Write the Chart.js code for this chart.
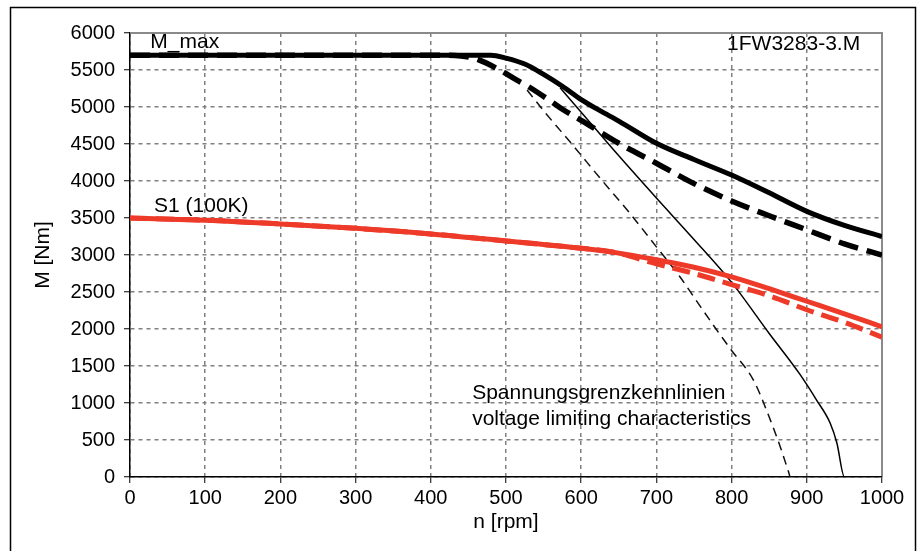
<!DOCTYPE html>
<html>
<head>
<meta charset="utf-8">
<script src="https://cdn.jsdelivr.net/npm/chart.js@4.4.1/dist/chart.umd.min.js"></script>
<style>
  html, body { margin: 0; padding: 0; background: #fff; }
  #wrap { position: relative; width: 922px; height: 551px; }
  canvas { display: block; }
</style>
</head>
<body>
<div id="wrap"><canvas id="c" width="922" height="551"></canvas></div>
<script>
// ---- data ----
const xTicks = [0, 100, 200, 300, 400, 500, 600, 700, 800, 900, 1000];
const yTicks = [0, 500, 1000, 1500, 2000, 2500, 3000, 3500, 4000, 4500, 5000, 5500, 6000];

// M_max, solid thick black
const mmaxSolidN = [0, 100, 200, 300, 400, 480, 500, 525, 550, 575, 600, 625, 650, 700, 750, 800, 850, 900, 950, 1000];
const mmaxSolidM = [5700, 5700, 5700, 5700, 5700, 5700, 5660, 5580, 5440, 5280, 5100, 4950, 4810, 4510, 4290, 4080, 3840, 3590, 3400, 3250];

// M_max, dashed thick black
const mmaxDashN = [0, 100, 200, 300, 400, 440, 460, 490, 510, 530, 560, 575, 600, 650, 700, 750, 800, 850, 900, 950, 1000];
const mmaxDashM = [5700, 5700, 5700, 5700, 5700, 5690, 5650, 5510, 5390, 5275, 5075, 4970, 4820, 4510, 4240, 3965, 3730, 3530, 3340, 3150, 3000];

// S1 (100K), solid red
const s1SolidN = [0, 100, 200, 300, 400, 500, 600, 650, 700, 750, 800, 850, 900, 950, 1000];
const s1SolidM = [3500, 3470, 3420, 3360, 3285, 3190, 3090, 3025, 2935, 2835, 2705, 2545, 2375, 2205, 2030];

// S1 (100K), dashed red
const s1DashN = [0, 100, 200, 300, 400, 500, 600, 640, 700, 750, 800, 850, 900, 950, 1000];
const s1DashM = [3500, 3470, 3420, 3360, 3285, 3190, 3090, 3045, 2880, 2750, 2600, 2450, 2260, 2090, 1890];

// voltage limiting characteristic, thin solid
const vlimSolidN = [572, 600, 650, 700, 750, 800, 850, 890, 913, 931, 940, 950, 1000];
const vlimSolidM = [5260, 4930, 4340, 3770, 3210, 2630, 1940, 1400, 1040, 730, 460, 0, 0];

// voltage limiting characteristic, thin dashed
const vlimDashN = [528, 550, 590, 625, 665, 700, 731, 750, 780, 800, 829, 850, 865, 876, 878, 1000];
const vlimDashM = [5230, 4950, 4470, 4040, 3560, 3110, 2710, 2430, 1990, 1710, 1310, 810, 400, 60, 0, 0];

// text labels
const labels = [
  { text: 'M_max', n: 27, m: 5795 },
  { text: '1FW3283-3.M', n: 794, m: 5770 },
  { text: 'S1 (100K)', n: 32, m: 3580 },
  { text: 'Spannungsgrenzkennlinien', n: 455, m: 1054 },
  { text: 'voltage limiting characteristics', n: 455, m: 703 }
];

const pts = (ns, ms) => ns.map((n, i) => ({ x: n, y: ms[i] }));
const RED = '#ED3A29';
const FONT = 'Liberation Sans, Arial, sans-serif';
const GRID = '#808080';

const decor = {
  id: 'decor',
  beforeDatasetsDraw(chart) {
    const { ctx, chartArea: a } = chart;
    ctx.save();
    ctx.strokeStyle = '#8a8a8a';
    ctx.lineWidth = 2;
    ctx.setLineDash([]);
    ctx.beginPath();
    ctx.moveTo(a.left, a.top);
    ctx.lineTo(a.right, a.top);
    ctx.lineTo(a.right, a.bottom);
    ctx.stroke();
    ctx.restore();
  },
  afterDraw(chart) {
    const { ctx } = chart;
    const xs = chart.scales.x, ys = chart.scales.y;
    ctx.save();
    ctx.strokeStyle = '#000';
    ctx.lineWidth = 1.5;
    ctx.setLineDash([]);
    ctx.strokeRect(10.5, 7.5, 905, 560);
    ctx.fillStyle = '#000';
    ctx.font = '21px ' + FONT;
    ctx.textAlign = 'left';
    ctx.textBaseline = 'alphabetic';
    labels.forEach(l => {
      ctx.fillText(l.text, xs.getPixelForValue(l.n), ys.getPixelForValue(l.m));
    });
    ctx.restore();
  }
};

const gridOpts = {
  color: GRID, lineWidth: 1.5, borderDash: [4, 4],
  tickLength: 6, tickColor: '#000', tickWidth: 1, tickBorderDash: [0, 0]
};

new Chart(document.getElementById('c'), {
  type: 'line',
  data: {
    datasets: [
      { data: pts(mmaxSolidN, mmaxSolidM), borderColor: '#000', borderWidth: 5 },
      { data: pts(mmaxDashN, mmaxDashM), borderColor: '#000', borderWidth: 5.5, borderDash: [20, 9] },
      { data: pts(s1SolidN, s1SolidM), borderColor: RED, borderWidth: 5 },
      { data: pts(s1DashN, s1DashM), borderColor: RED, borderWidth: 5, borderDash: [18, 8] },
      { data: pts(vlimSolidN, vlimSolidM), borderColor: '#000', borderWidth: 1.5 },
      { data: pts(vlimDashN, vlimDashM), borderColor: '#111', borderWidth: 1.5, borderDash: [9, 6] }
    ]
  },
  options: {
    responsive: false,
    animation: false,
    elements: {
      point: { radius: 0 },
      line: { cubicInterpolationMode: 'monotone', fill: false }
    },
    layout: { padding: { top: 33, right: 40, left: 0, bottom: 0 } },
    plugins: { legend: { display: false }, tooltip: { enabled: false } },
    scales: {
      x: {
        type: 'linear', min: 0, max: 1000,
        afterBuildTicks: s => { s.ticks = xTicks.map(v => ({ value: v })); },
        afterFit: s => { s.height = 74; },
        ticks: { color: '#000', font: { family: FONT, size: 20 }, padding: 3, maxRotation: 0, callback: v => String(v) },
        grid: gridOpts,
        border: { display: true, color: '#000', width: 1.5, dash: [4, 4] },
        title: { display: true, text: 'n [rpm]', color: '#000', font: { family: FONT, size: 21 }, padding: { top: 0, bottom: 16 } }
      },
      y: {
        type: 'linear', min: 0, max: 6000,
        afterBuildTicks: s => { s.ticks = yTicks.map(v => ({ value: v })); },
        afterFit: s => { s.width = 130; },
        ticks: { color: '#000', font: { family: FONT, size: 20 }, padding: 9, callback: v => String(v) },
        grid: gridOpts,
        border: { display: true, color: '#000', width: 1.5, dash: [4, 4] },
        title: { display: true, text: 'M [Nm]', color: '#000', font: { family: FONT, size: 21 }, padding: { top: 31, bottom: 0 } }
      }
    }
  },
  plugins: [decor]
});
</script>
</body>
</html>
